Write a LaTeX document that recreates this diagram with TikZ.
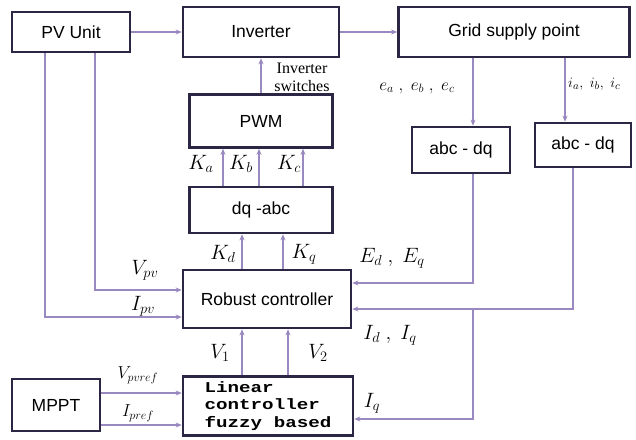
\documentclass[tikz,border=0pt]{standalone}
\usepackage{fontspec}
\setmainfont{Liberation Sans}
\newfontfamily\labelfont{Liberation Serif}
\newfontfamily\fuzzyfont{Liberation Mono}
\usepackage{tikz}
\usetikzlibrary{arrows.meta}
\definecolor{boxcol}{HTML}{2A2644}
\definecolor{linecol}{HTML}{9A88C0}

\begin{document}
\begin{tikzpicture}[x=1pt, y=-1pt,
    box/.style={draw=boxcol, line width=2.6pt, rectangle, align=center, font=\fontsize{17.5}{19}\selectfont},
    conn/.style={draw=linecol, line width=1.4pt, -{Stealth[length=6pt, width=5pt, fill=linecol!80!black]}},
    sig/.style={font=\fontsize{20}{22}\selectfont, inner sep=0pt}]
    \useasboundingbox (0,0) rectangle (636,439);

    % Power path
    \node (pv) at (71,32) [box, minimum width=118pt, minimum height=40pt] {PV Unit};
    \node (inv) at (261,32) [box, minimum width=156pt, minimum height=50pt] {Inverter};
    \node (grid) at (514,32) [box, minimum width=231pt, minimum height=50pt] {Grid supply point};
    \draw[conn] (pv) -- (inv);
    \draw[conn] (inv) -- (grid);

    % Modulation chain
    \node (pwm) at (261,121) [box, minimum width=143pt, minimum height=53pt] {PWM};
    \node (dqabc) at (261,210) [box, minimum width=143pt, minimum height=46pt] {dq -abc};
    \node (robust) at (267,299) [box, minimum width=168pt, minimum height=58pt] {Robust controller};
    \draw[conn] (pwm) -- (inv);
    \node (lswitch) at (302,77) [font=\labelfont\fontsize{16}{18}\selectfont, align=center, inner sep=0pt] {Inverter\\switches};
    \draw[conn] ([xshift=-38pt]dqabc.north) -- ([xshift=-38pt]pwm.south);
    \draw[conn] ([xshift=-2pt]dqabc.north) -- ([xshift=-2pt]pwm.south);
    \draw[conn] ([xshift=42pt]dqabc.north) -- ([xshift=42pt]pwm.south);
    \node (lka) at (201,164) [sig] {$K_a$};
    \node (lkb) at (241,164) [sig] {$K_b$};
    \node (lkc) at (289,164) [sig] {$K_c$};
    \draw[conn] ([xshift=-25pt]robust.north) -- ([xshift=-25pt]robust.north |- dqabc.south);
    \draw[conn] ([xshift=16pt]robust.north) -- ([xshift=16pt]robust.north |- dqabc.south);
    \node (lkd) at (223,254) [sig] {$K_d$};
    \node (lkq) at (304,254) [sig] {$K_q$};

    % PV measurements
    \draw[conn] ([xshift=24pt]pv.south) |- ([yshift=9pt]robust.west);
    \draw[conn] ([xshift=-26pt]pv.south) |- ([yshift=-18pt]robust.west);
    \node (lvpv) at (145,270) [sig] {$V_{pv}$};
    \node (lipv) at (143,306) [sig] {$I_{pv}$};

    % Grid measurements
    \node (abcdqe) at (461,150) [box, minimum width=98pt, minimum height=46pt] {abc - dq};
    \node (abcdqi) at (583,145) [box, minimum width=96pt, minimum height=44pt] {abc - dq};
    \draw[conn] ([xshift=12pt]abcdqe.north |- grid.south) -- ([xshift=12pt]abcdqe.north);
    \draw[conn] ([xshift=-18pt]abcdqi.north |- grid.south) -- ([xshift=-18pt]abcdqi.north);
    \node (leabc) at (417,88) [sig, font=\fontsize{17}{18}\selectfont] {$e_a\ ,\ e_b\ ,\ e_c$};
    \node (liabc) at (568,84) [sig, anchor=west, font=\fontsize{15}{18}\selectfont] {$i_a,\ i_b,\ i_c$};
    \draw[conn] ([xshift=12pt]abcdqe.south) |- ([yshift=16pt]robust.east);
    \draw[conn] ([xshift=-10pt]abcdqi.south) |- ([yshift=-10pt]robust.east);
    \node (ledq) at (392,258) [sig] {$E_d\ ,\ E_q$};
    \node (lidq) at (390,335) [sig] {$I_d\ ,\ I_q$};

    % Reference generation
    \node (mppt) at (56,405) [box, minimum width=88pt, minimum height=52pt] {MPPT};
    \node (linear) at (268,406) [box, minimum width=170pt, minimum height=56pt, font=\fuzzyfont\bfseries\fontsize{15}{17.5}\selectfont] {\scalebox{1.28}[1]{\begin{tabular}{@{}l@{}}Linear\\controller\\fuzzy based\end{tabular}}};
    \draw[conn] ([yshift=12pt]mppt.east) -- ([yshift=12pt]mppt.east -| linear.west);
    \draw[conn] ([yshift=-20pt]mppt.east) -- ([yshift=-20pt]mppt.east -| linear.west);
    \node (lvref) at (138,375) [sig, font=\fontsize{17}{18}\selectfont] {$V_{pvref}$};
    \node (liref) at (138,413) [sig, font=\fontsize{17}{18}\selectfont] {$I_{pref}$};
    \draw[conn] ([xshift=-26pt]linear.north) -- ([xshift=-26pt]linear.north |- robust.south);
    \draw[conn] ([xshift=20pt]linear.north) -- ([xshift=20pt]linear.north |- robust.south);
    \node (lv1) at (220,353) [sig] {$V_1$};
    \node (lv2) at (318,353) [sig] {$V_2$};
    \coordinate (tap) at (473,309);
    \draw[conn] (tap) |- ([yshift=-13pt]linear.east);
    \node (liq) at (372,403) [sig] {$I_q$};
\end{tikzpicture}
\end{document}
